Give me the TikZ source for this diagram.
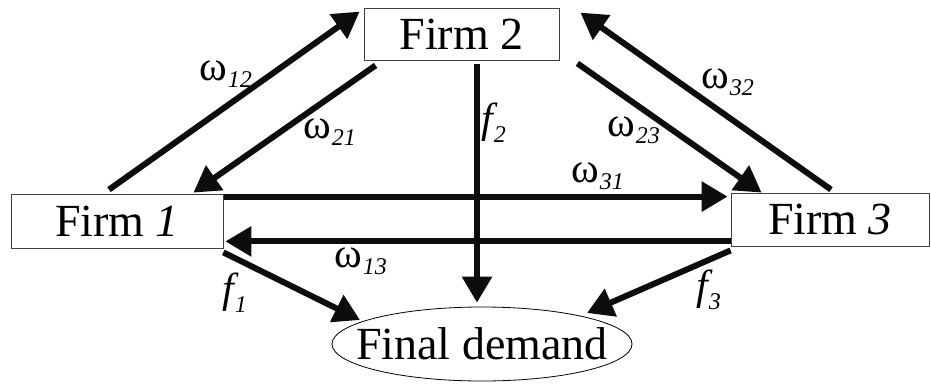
\documentclass[tikz,border=0pt]{standalone}
\usepackage{fontspec}
\setmainfont{Liberation Serif}
\usetikzlibrary{arrows.meta,shapes.geometric}
\newcommand{\boxfont}{\fontsize{46}{46}\selectfont}
\newcommand{\omfont}{\fontsize{42}{42}\selectfont}
\newcommand{\subfont}{\fontsize{24}{24}\selectfont\itshape}
\newcommand{\myom}[1]{{\omfont ω}\kern1pt\raisebox{-7pt}{\subfont #1}}
\newcommand{\myf}[1]{{\fontsize{42}{42}\selectfont\itshape f}\kern1pt\raisebox{-10pt}{\subfont #1}}
\begin{document}
\begin{tikzpicture}[x=1pt,y=-1pt,
  firmbox/.style={draw=black!75,line width=0.8pt,rectangle,inner sep=0pt,font=\boxfont},
  fdshape/.style={draw=black,line width=0.8pt,ellipse,inner sep=0pt,font=\boxfont},
  flow/.style={line width=6pt,draw=black!95,-{Triangle[length=26pt,width=29pt]}},
  lab/.style={anchor=base west,inner sep=0pt}]
\useasboundingbox (0,0) rectangle (931,383);
\node[firmbox,minimum width=212pt,minimum height=54pt] (f1) at (117,221) {Firm \textit{1}};
\node[firmbox,minimum width=195pt,minimum height=52pt] (f2) at (461.5,34) {Firm 2};
\node[firmbox,minimum width=198pt,minimum height=53pt] (f3) at (830,219.5) {Firm \textit{3}};
\node[fdshape,minimum width=300pt,minimum height=74pt] (fd) at (482,344) {\makebox[0pt]{\raisebox{-15pt}[0pt][0pt]{Final demand}}};
% connector end points
\coordinate (s12) at ([xshift=-8pt,yshift=4pt]f1.north);
\coordinate (t12) at ([xshift=-4pt,yshift=-4pt]f2.north west);
\coordinate (s21) at ([xshift=12pt,yshift=-5pt]f2.south west);
\coordinate (t21) at ([xshift=-30pt,yshift=1pt]f1.north east);
\coordinate (s32) at ([xshift=1pt,yshift=3pt]f3.north);
\coordinate (t32) at ([xshift=21pt,yshift=-5pt]f2.north east);
\coordinate (s23) at ([xshift=18pt,yshift=-3pt]f2.south east);
\coordinate (t23) at ([xshift=31pt]f3.north west);
\coordinate (sf2) at ([xshift=15.5pt,yshift=-4pt]f2.south);
\coordinate (tf2) at ([yshift=4pt]sf2 |- fd.north);
\coordinate (s31) at ([xshift=1pt,yshift=-3pt]f1.north east);
\coordinate (t31) at ([xshift=-3pt]s31 -| f3.west);
\coordinate (s13) at ([yshift=5pt]f3.south west);
\coordinate (t13) at ([xshift=2pt]s13 -| f1.east);
\coordinate (sf1) at ([yshift=-4pt]f1.south east);
\coordinate (tf1) at ([xshift=-122pt,yshift=24pt]fd.center);
\coordinate (sf3) at ([yshift=-4pt]f3.south west);
\coordinate (tf3) at ([xshift=105pt,yshift=31pt]fd.center);
% connectors
\draw[flow] (s12) -- (t12);
\draw[flow] (s21) -- (t21);
\draw[flow] (s32) -- (t32);
\draw[flow] (s23) -- (t23);
\draw[flow] (sf2) -- (tf2);
\draw[flow] (s31) -- (t31);
\draw[flow] (s13) -- (t13);
\draw[flow] (sf1) -- (tf1);
\draw[flow] (sf3) -- (tf3);
% labels
\node[lab] (l12) at (199,80) {\myom{12}};
\node[lab] (l21) at (303,138) {\myom{21}};
\node[lab] (l32) at (701,88) {\myom{32}};
\node[lab] (l23) at (607,136) {\myom{23}};
\node[lab] (l31) at (571,182) {\myom{31}};
\node[lab] (l13) at (334,267) {\myom{13}};
\node[lab] (lf2) at (481,132) {\myf{2}};
\node[lab] (lf1) at (222,302) {\myf{1}};
\node[lab] (lf3) at (696,299) {\myf{3}};
\end{tikzpicture}
\end{document}
